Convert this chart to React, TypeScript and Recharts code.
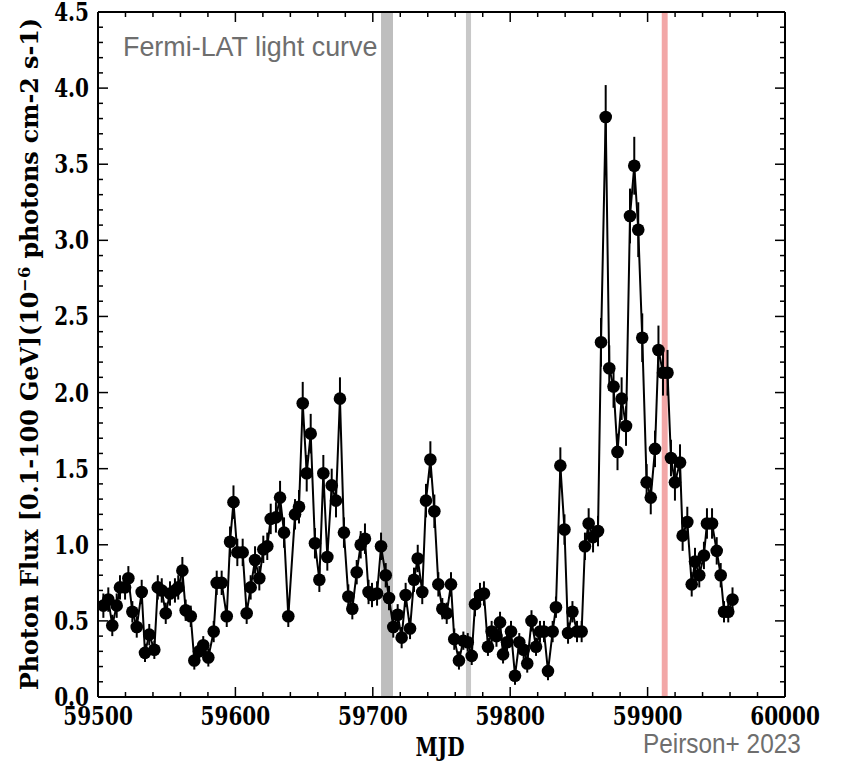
import { ComposedChart, Line, ErrorBar, XAxis, YAxis, ReferenceArea } from "recharts";

// Fermi-LAT light curve, 3-day bins
const mjd = [
  59503.9, 59507.5, 59510.4, 59513.6, 59516.0, 59519.7, 59522.1, 59525.0, 59528.2, 59531.8,
  59534.2, 59537.3, 59541.0, 59543.5, 59546.4, 59549.3, 59552.4, 59556.0, 59558.4, 59561.4,
  59563.8, 59567.5, 59570.1, 59573.5, 59576.6, 59580.3, 59584.2, 59586.4, 59590.0, 59593.7,
  59596.1, 59598.6, 59601.4, 59605.3, 59608.2, 59611.1, 59614.3, 59617.4, 59620.3, 59623.2,
  59625.7, 59629.5, 59632.5, 59635.4, 59638.5, 59643.4, 59646.3, 59649.0, 59651.9, 59654.8,
  59657.9, 59661.1, 59664.0, 59666.9, 59670.1, 59673.2, 59676.1, 59679.0, 59682.2, 59685.1,
  59688.3, 59691.2, 59694.3, 59696.9, 59699.4, 59703.1, 59706.0, 59709.4, 59711.8, 59714.9,
  59718.1, 59721.0, 59723.9, 59727.1, 59730.0, 59732.7, 59736.0, 59738.7, 59741.9, 59744.8,
  59747.7, 59750.6, 59753.8, 59756.9, 59759.3, 59762.7, 59765.9, 59769.1, 59772.0, 59774.4,
  59778.0, 59780.9, 59783.8, 59786.5, 59790.0, 59792.6, 59794.8, 59797.7, 59800.6, 59803.5,
  59806.6, 59809.8, 59812.4, 59815.5, 59818.8, 59821.7, 59824.6, 59827.5, 59830.9, 59833.3,
  59836.5, 59839.5, 59842.1, 59845.3, 59848.6, 59852.0, 59854.4, 59857.1, 59860.3, 59863.9,
  59866.1, 59869.5, 59872.1, 59875.2, 59878.1, 59881.1, 59884.3, 59887.2, 59890.3, 59893.2,
  59896.1, 59899.3, 59902.3, 59905.4, 59907.9, 59911.2, 59914.5, 59917.0, 59919.9, 59923.6,
  59925.5, 59928.9, 59932.1, 59934.5, 59937.6, 59941.0, 59943.2, 59946.9, 59950.3, 59953.2,
  59955.6, 59958.7, 59961.8,
];

const flux = [
  0.60, 0.64, 0.47, 0.60, 0.72, 0.72, 0.78, 0.56, 0.46, 0.69,
  0.29, 0.41, 0.31, 0.72, 0.70, 0.55, 0.68, 0.70, 0.72, 0.83,
  0.57, 0.53, 0.24, 0.30, 0.34, 0.26, 0.43, 0.75, 0.75, 0.53,
  1.02, 1.28, 0.95, 0.95, 0.55, 0.72, 0.90, 0.78, 0.97, 0.99,
  1.17, 1.18, 1.31, 1.08, 0.53, 1.20, 1.25, 1.93, 1.47, 1.73,
  1.01, 0.77, 1.47, 0.92, 1.39, 1.29, 1.96, 1.08, 0.66, 0.58,
  0.82, 1.00, 1.04, 0.69, 0.67, 0.68, 0.99, 0.80, 0.65, 0.46,
  0.54, 0.39, 0.67, 0.45, 0.77, 0.91, 0.69, 1.29, 1.56, 1.22,
  0.74, 0.58, 0.55, 0.74, 0.38, 0.24, 0.37, 0.36, 0.27, 0.61,
  0.67, 0.68, 0.33, 0.43, 0.40, 0.49, 0.28, 0.36, 0.43, 0.14,
  0.36, 0.31, 0.22, 0.50, 0.33, 0.43, 0.43, 0.17, 0.43, 0.59,
  1.52, 1.10, 0.42, 0.56, 0.43, 0.43, 0.99, 1.14, 1.05, 1.09,
  2.33, 3.81, 2.16, 2.04, 1.61, 1.96, 1.78, 3.16, 3.49, 3.07,
  2.36, 1.41, 1.31, 1.63, 2.28, 2.13, 2.13, 1.57, 1.41, 1.54,
  1.06, 1.15, 0.74, 0.89, 0.80, 0.93, 1.14, 1.14, 0.96, 0.80,
  0.56, 0.56, 0.64,
];

const fluxErr = [
  0.08, 0.08, 0.07, 0.08, 0.08, 0.08, 0.08, 0.07, 0.07, 0.08,
  0.06, 0.07, 0.06, 0.08, 0.08, 0.07, 0.08, 0.08, 0.08, 0.09,
  0.07, 0.07, 0.06, 0.06, 0.06, 0.06, 0.07, 0.08, 0.08, 0.07,
  0.10, 0.11, 0.09, 0.09, 0.07, 0.08, 0.09, 0.08, 0.09, 0.09,
  0.10, 0.10, 0.11, 0.10, 0.07, 0.10, 0.11, 0.14, 0.12, 0.13,
  0.10, 0.08, 0.12, 0.09, 0.11, 0.11, 0.14, 0.10, 0.08, 0.07,
  0.08, 0.09, 0.10, 0.08, 0.08, 0.08, 0.09, 0.08, 0.08, 0.07,
  0.07, 0.07, 0.08, 0.07, 0.08, 0.09, 0.08, 0.11, 0.12, 0.11,
  0.08, 0.07, 0.07, 0.08, 0.07, 0.06, 0.06, 0.06, 0.06, 0.08,
  0.08, 0.08, 0.06, 0.07, 0.07, 0.07, 0.06, 0.06, 0.07, 0.06,
  0.06, 0.06, 0.06, 0.07, 0.06, 0.07, 0.07, 0.06, 0.07, 0.07,
  0.12, 0.10, 0.07, 0.07, 0.07, 0.07, 0.09, 0.10, 0.10, 0.10,
  0.16, 0.21, 0.15, 0.14, 0.12, 0.14, 0.13, 0.18, 0.19, 0.18,
  0.16, 0.12, 0.11, 0.12, 0.16, 0.15, 0.15, 0.12, 0.12, 0.12,
  0.10, 0.10, 0.08, 0.09, 0.08, 0.09, 0.10, 0.10, 0.09, 0.08,
  0.07, 0.07, 0.08,
];

// shaded epochs
const bandStart = [59706, 59767.8, 59910.3];
const bandEnd = [59714.7, 59771.5, 59914.6];
const bandColor = ["#bebebe", "#c8c8c8", "#f2a7a7"];

const xTicks = [
  59500, 59520, 59540, 59560, 59580, 59600, 59620, 59640, 59660, 59680,
  59700, 59720, 59740, 59760, 59780, 59800, 59820, 59840, 59860, 59880,
  59900, 59920, 59940, 59960, 59980, 60000,
];
const yTicks = [
  0, 0.1, 0.2, 0.3, 0.4, 0.5, 0.6, 0.7, 0.8, 0.9, 1.0, 1.1, 1.2, 1.3, 1.4, 1.5,
  1.6, 1.7, 1.8, 1.9, 2.0, 2.1, 2.2, 2.3, 2.4, 2.5, 2.6, 2.7, 2.8, 2.9, 3.0, 3.1,
  3.2, 3.3, 3.4, 3.5, 3.6, 3.7, 3.8, 3.9, 4.0, 4.1, 4.2, 4.3, 4.4, 4.5,
];

const data = mjd.map((m, i) => ({ mjd: m, flux: flux[i], err: fluxErr[i] }));

const serif = {
  fontFamily: "'DejaVu Serif', serif",
  fontWeight: "bold",
} as const;
const serifCond = {
  fontFamily: "'DejaVu Serif Condensed', 'DejaVu Serif', serif",
  fontStretch: "condensed",
  fontWeight: "bold",
} as const;
const sans = { fontFamily: "'Liberation Sans', Arial, sans-serif", color: "#6e6e6e" };
// the source figure is squeezed sideways, so glyphs are narrow
const SQUEEZE = 0.77;

const isMajorX = (v: number) => v % 100 === 0;
const isMajorY = (v: number) => Math.abs(v * 2 - Math.round(v * 2)) < 1e-6;

const BottomTick = ({ x, y, payload }: any) => {
  const major = isMajorX(payload.value);
  return (
    <g>
      <line x1={x} x2={x} y1={y} y2={y - (major ? 10 : 5)} stroke="#000" strokeWidth={1.5} />
      {major && (
        <text
          transform={`translate(${x},${y + 28}) scale(${SQUEEZE},1)`}
          textAnchor="middle"
          fontSize={26}
          fill="#000"
          style={serif}
        >
          {payload.value}
        </text>
      )}
    </g>
  );
};

const TopTick = ({ x, y, payload }: any) => {
  const major = isMajorX(payload.value);
  return <line x1={x} x2={x} y1={y} y2={y + (major ? 10 : 5)} stroke="#000" strokeWidth={1.5} />;
};

const LeftTick = ({ x, y, payload }: any) => {
  const major = isMajorY(payload.value);
  return (
    <g>
      <line x1={x} x2={x + (major ? 10 : 5)} y1={y} y2={y} stroke="#000" strokeWidth={1.5} />
      {major && (
        <text
          transform={`translate(${x - 9},${y + 9}) scale(${SQUEEZE},1)`}
          textAnchor="end"
          fontSize={26}
          fill="#000"
          style={serif}
        >
          {payload.value.toFixed(1)}
        </text>
      )}
    </g>
  );
};

const RightTick = ({ x, y, payload }: any) => {
  const major = isMajorY(payload.value);
  return <line x1={x} x2={x - (major ? 10 : 5)} y1={y} y2={y} stroke="#000" strokeWidth={1.5} />;
};

const frame = { stroke: "#000", strokeWidth: 2 };

export default function App() {
  return (
    <div style={{ position: "absolute", left: 0, top: 0, width: 846, height: 767, background: "#fff" }}>
      <ComposedChart
        width={846}
        height={767}
        data={data}
        margin={{ top: 11, right: 60, bottom: 69, left: 97 }}
      >
        <XAxis
          xAxisId="b"
          type="number"
          dataKey="mjd"
          domain={[59500, 60000]}
          ticks={xTicks}
          interval={0}
          height={1}
          tickSize={0}
          tickMargin={0}
          tickLine={false}
          tick={BottomTick}
          axisLine={frame}
          allowDataOverflow
        />
        <XAxis
          xAxisId="t"
          orientation="top"
          type="number"
          dataKey="mjd"
          domain={[59500, 60000]}
          ticks={xTicks}
          interval={0}
          height={1}
          tickSize={0}
          tickMargin={0}
          tickLine={false}
          tick={TopTick}
          axisLine={frame}
          allowDataOverflow
        />
        <YAxis
          yAxisId="l"
          type="number"
          domain={[0, 4.5]}
          ticks={yTicks}
          interval={0}
          width={1}
          tickSize={0}
          tickMargin={0}
          tickLine={false}
          tick={LeftTick}
          axisLine={frame}
          allowDataOverflow
        />
        <YAxis
          yAxisId="r"
          orientation="right"
          type="number"
          domain={[0, 4.5]}
          ticks={yTicks}
          interval={0}
          width={1}
          tickSize={0}
          tickMargin={0}
          tickLine={false}
          tick={RightTick}
          axisLine={frame}
          allowDataOverflow
        />
        {bandStart.map((s, i) => (
          <ReferenceArea
            key={i}
            xAxisId="b"
            yAxisId="l"
            x1={s}
            x2={bandEnd[i]}
            y1={0}
            y2={4.5}
            fill={bandColor[i]}
            fillOpacity={1}
            stroke="none"
          />
        ))}
        <Line
          xAxisId="b"
          yAxisId="l"
          type="linear"
          dataKey="flux"
          stroke="#000"
          strokeWidth={2}
          dot={{ r: 6.3, fill: "#000", stroke: "#000", strokeWidth: 0 }}
          isAnimationActive={false}
        >
          <ErrorBar dataKey="err" direction="y" width={0} stroke="#000" strokeWidth={2} />
        </Line>
      </ComposedChart>

      <div
        style={{
          ...sans,
          position: "absolute",
          left: 123,
          top: 31,
          fontSize: 28,
          whiteSpace: "nowrap",
          transform: "scaleX(0.96)",
          transformOrigin: "0 0",
        }}
      >
        Fermi-LAT light curve
      </div>
      <div
        style={{
          ...sans,
          position: "absolute",
          left: 643,
          top: 728,
          fontSize: 28,
          whiteSpace: "nowrap",
          transform: "scaleX(0.87)",
          transformOrigin: "0 0",
        }}
      >
        Peirson+ 2023
      </div>
      <div
        style={{
          ...serif,
          position: "absolute",
          left: 440,
          top: 747,
          fontSize: 26,
          lineHeight: "30px",
          transform: `translate(-50%, -50%) scaleX(${SQUEEZE})`,
          whiteSpace: "nowrap",
        }}
      >
        MJD
      </div>
      <div
        style={{
          ...serifCond,
          position: "absolute",
          left: 30,
          top: 354,
          fontSize: 26.4,
          lineHeight: "30px",
          transform: "translate(-50%, -50%) rotate(-90deg) scaleY(0.88)",
          whiteSpace: "nowrap",
        }}
      >
        Photon Flux [0.1-100 GeV](10
        <sup style={{ fontSize: 18, verticalAlign: "top", position: "relative", top: -6 }}>−6</sup> photons cm-2 s-1)
      </div>
    </div>
  );
}
